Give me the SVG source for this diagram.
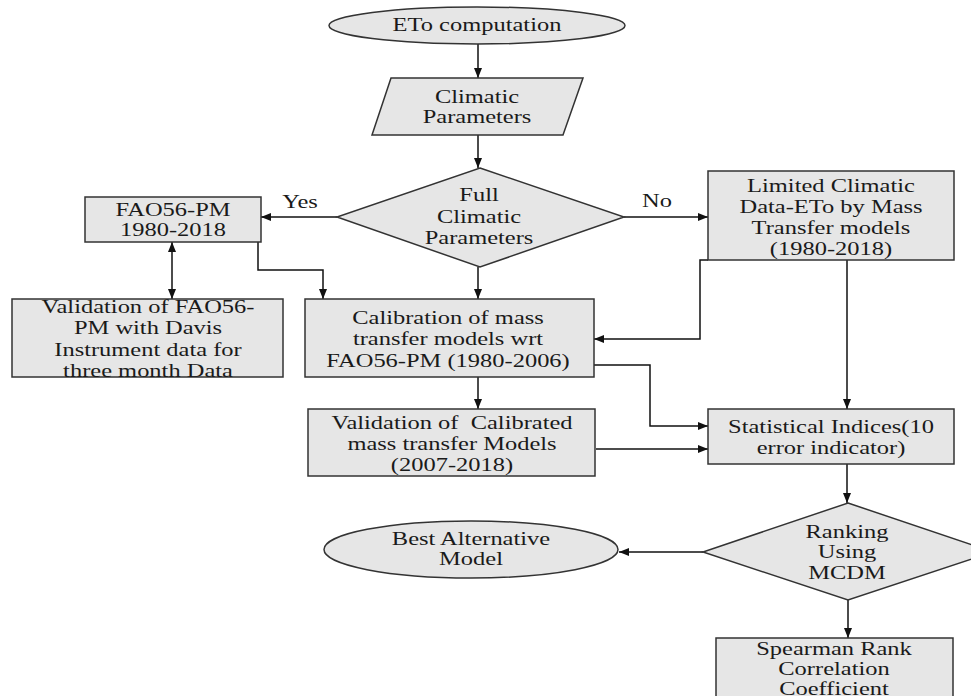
<svg xmlns="http://www.w3.org/2000/svg" width="971" height="696" viewBox="0 0 971 696">
<style>
.s{fill:#e6e6e6;stroke:#333;stroke-width:1.5}
.t{font-family:'Liberation Serif','DejaVu Serif','Times New Roman',serif;font-size:18px;text-anchor:middle;fill:#1a1a1a}
.c{fill:none;stroke:#111;stroke-width:1.5}
</style>
<defs>
<marker id="a" markerUnits="userSpaceOnUse" markerWidth="10" markerHeight="10" viewBox="0 0 10 10" refX="10" refY="5" orient="auto">
<path d="M0,1 L10,5 L0,9 z" fill="#111"/>
</marker>
<marker id="b" markerUnits="userSpaceOnUse" markerWidth="10" markerHeight="10" viewBox="0 0 10 10" refX="10" refY="5" orient="auto-start-reverse">
<path d="M0,1 L10,5 L0,9 z" fill="#111"/>
</marker>
</defs>
<g id="connectors">
<path class="c" d="M478,44 V78" marker-end="url(#a)"/>
<path class="c" d="M478,135 V168" marker-end="url(#a)"/>
<path class="c" d="M337,217 H261" marker-end="url(#a)"/>
<path class="c" d="M624,217 H708" marker-end="url(#a)"/>
<path class="c" d="M172,242 V299" marker-start="url(#b)" marker-end="url(#b)"/>
<path class="c" d="M258,242 V270 H323 V299" marker-end="url(#a)"/>
<path class="c" d="M478,267 V299" marker-end="url(#a)"/>
<path class="c" d="M708,260 H700 V339 H594" marker-end="url(#a)"/>
<path class="c" d="M847,260 V409" marker-end="url(#a)"/>
<path class="c" d="M478,377 V409" marker-end="url(#a)"/>
<path class="c" d="M594,365 H650 V426 H708" marker-end="url(#a)"/>
<path class="c" d="M596,449 H708" marker-end="url(#a)"/>
<path class="c" d="M847,464 V503" marker-end="url(#a)"/>
<path class="c" d="M703,552 H619" marker-end="url(#a)"/>
<path class="c" d="M848,600 V638" marker-end="url(#a)"/>
<text class="t" font-family="Liberation Serif, serif" transform="translate(300,0) scale(1.36,1)" x="0" y="208">Yes</text>
<text class="t" font-family="Liberation Serif, serif" transform="translate(657,0) scale(1.36,1)" x="0" y="207">No</text>
</g>
<g font-family="Liberation Serif, serif">
<g id="n-eto">
<ellipse class="s" cx="477" cy="25.5" rx="148" ry="18.5"/>
<text class="t" transform="translate(477,0) scale(1.36,1)" x="0" y="31">ETo computation</text>
</g>
<g id="n-climatic">
<polygon class="s" points="391,78 583,78 563,135 372,135"/>
<text class="t" transform="translate(477,0) scale(1.36,1)" x="0" y="103">Climatic</text>
<text class="t" transform="translate(477,0) scale(1.36,1)" x="0" y="123">Parameters</text>
</g>
<g id="n-full">
<polygon class="s" points="480,168 624,217 480,267 337,217"/>
<text class="t" transform="translate(479,0) scale(1.36,1)" x="0" y="201">Full</text>
<text class="t" transform="translate(479,0) scale(1.36,1)" x="0" y="223">Climatic</text>
<text class="t" transform="translate(479,0) scale(1.36,1)" x="0" y="244">Parameters</text>
</g>
<g id="n-fao">
<rect class="s" x="85" y="197" width="176" height="45"/>
<text class="t" transform="translate(173,0) scale(1.36,1)" x="0" y="216">FAO56-PM</text>
<text class="t" transform="translate(173,0) scale(1.36,1)" x="0" y="236">1980-2018</text>
</g>
<g id="n-limited">
<rect class="s" x="708" y="171" width="246" height="89"/>
<text class="t" transform="translate(831,0) scale(1.36,1)" x="0" y="192">Limited Climatic</text>
<text class="t" transform="translate(831,0) scale(1.36,1)" x="0" y="213">Data-ETo by Mass</text>
<text class="t" transform="translate(831,0) scale(1.36,1)" x="0" y="234">Transfer models</text>
<text class="t" transform="translate(831,0) scale(1.36,1)" x="0" y="255">(1980-2018)</text>
</g>
<g id="n-valfao">
<rect class="s" x="12" y="299" width="271" height="78"/>
<text class="t" transform="translate(148,0) scale(1.36,1)" x="0" y="313">Validation of FAO56-</text>
<text class="t" transform="translate(148,0) scale(1.36,1)" x="0" y="334">PM with Davis</text>
<text class="t" transform="translate(148,0) scale(1.36,1)" x="0" y="356">Instrument data for</text>
<text class="t" transform="translate(148,0) scale(1.36,1)" x="0" y="377">three month Data</text>
</g>
<g id="n-calib">
<rect class="s" x="305" y="299" width="289" height="78"/>
<text class="t" transform="translate(448,0) scale(1.36,1)" x="0" y="324">Calibration of mass</text>
<text class="t" transform="translate(448,0) scale(1.36,1)" x="0" y="345">transfer models wrt</text>
<text class="t" transform="translate(448,0) scale(1.36,1)" x="0" y="367">FAO56-PM (1980-2006)</text>
</g>
<g id="n-valcal">
<rect class="s" x="308" y="409" width="287" height="67"/>
<text class="t" transform="translate(452,0) scale(1.36,1)" x="0" y="429" xml:space="preserve">Validation of  Calibrated</text>
<text class="t" transform="translate(452,0) scale(1.36,1)" x="0" y="450">mass transfer Models</text>
<text class="t" transform="translate(452,0) scale(1.36,1)" x="0" y="471">(2007-2018)</text>
</g>
<g id="n-stat">
<rect class="s" x="708" y="409" width="246" height="55"/>
<text class="t" transform="translate(831,0) scale(1.36,1)" x="0" y="433">Statistical Indices(10</text>
<text class="t" transform="translate(831,0) scale(1.36,1)" x="0" y="454">error indicator)</text>
</g>
<g id="n-ranking">
<polygon class="s" points="848,503 993,552 848,600 703,552"/>
<text class="t" transform="translate(847,0) scale(1.36,1)" x="0" y="538">Ranking</text>
<text class="t" transform="translate(847,0) scale(1.36,1)" x="0" y="558">Using</text>
<text class="t" transform="translate(847,0) scale(1.36,1)" x="0" y="579">MCDM</text>
</g>
<g id="n-best">
<ellipse class="s" cx="471" cy="549.5" rx="147" ry="28.5"/>
<text class="t" transform="translate(471,0) scale(1.36,1)" x="0" y="545">Best Alternative</text>
<text class="t" transform="translate(471,0) scale(1.36,1)" x="0" y="565">Model</text>
</g>
<g id="n-spearman">
<rect class="s" x="716" y="638" width="237" height="70"/>
<text class="t" transform="translate(834,0) scale(1.36,1)" x="0" y="655">Spearman Rank</text>
<text class="t" transform="translate(834,0) scale(1.36,1)" x="0" y="675">Correlation</text>
<text class="t" transform="translate(834,0) scale(1.36,1)" x="0" y="695">Coefficient</text>
</g>
</g>
</svg>
